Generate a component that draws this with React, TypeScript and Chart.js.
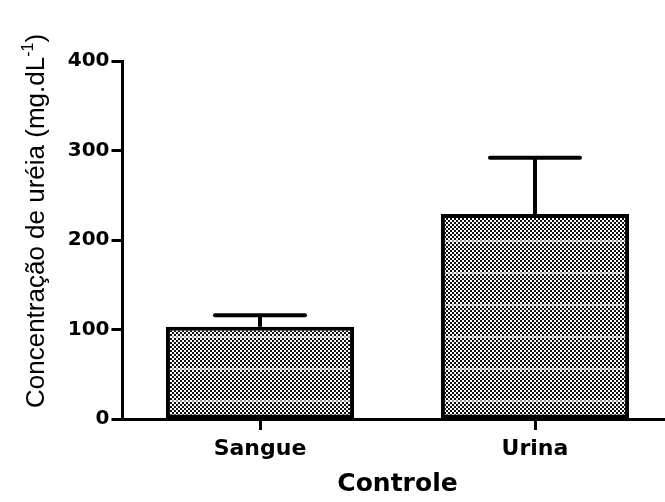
import React, { useEffect, useRef } from 'react';
import { Chart, registerables } from 'chart.js';

Chart.register(...registerables);

const categories = ['Sangue', 'Urina'];
const means = [103, 229];
const sem = [13, 63];
const yTicks = [0, 100, 200, 300, 400];
const yTitleMain = 'Concentração de uréia (mg.dL';
const yTitleSup = '-1';
const yTitleEnd = ')';
const xTitle = 'Controle';

function makePattern(): CanvasPattern | string {
  const c = document.createElement('canvas');
  c.width = 4;
  c.height = 32;
  const g = c.getContext('2d');
  if (!g) return '#666';
  g.fillStyle = '#fff';
  g.fillRect(0, 0, 4, 32);
  for (let y = 0; y < 32; y += 2) {
    for (let x = 0; x < 4; x += 2) {
      if (((x / 2) + (y / 2)) % 2 === 0) {
        g.fillStyle = y === 16 ? '#9a9a9a' : '#111';
        g.fillRect(x, y, 2, 2);
      }
    }
  }
  const p = g.createPattern(c, 'repeat');
  return p || '#666';
}

const errorBarPlugin = {
  id: 'errorBars',
  afterDatasetsDraw(chart: any) {
    const { ctx } = chart;
    const y = chart.scales.y;
    const meta = chart.getDatasetMeta(0);
    ctx.save();
    ctx.strokeStyle = '#000';
    ctx.lineWidth = 4;
    meta.data.forEach((bar: any, i: number) => {
      const { x, width } = bar.getProps(['x', 'width'], true);
      const top = y.getPixelForValue(means[i]);
      const hi = y.getPixelForValue(means[i] + sem[i]);
      ctx.lineCap = 'butt';
      ctx.beginPath();
      ctx.moveTo(x, top);
      ctx.lineTo(x, hi);
      ctx.stroke();
      ctx.lineCap = 'round';
      ctx.beginPath();
      ctx.moveTo(x - width / 4 + 2, hi);
      ctx.lineTo(x + width / 4 - 2, hi);
      ctx.stroke();
    });
    ctx.restore();
  },
};

const yTitlePlugin = {
  id: 'yTitle',
  afterDraw(chart: any) {
    const { ctx } = chart;
    const area = chart.chartArea;
    const size = 26;
    ctx.save();
    ctx.fillStyle = '#000';
    ctx.textBaseline = 'alphabetic';
    ctx.textAlign = 'left';
    ctx.translate(44, area.bottom - 11);
    ctx.rotate(-Math.PI / 2);
    ctx.font = `normal ${size}px "Liberation Sans", Arial, sans-serif`;
    let x = 0;
    ctx.fillText(yTitleMain, x, 0);
    x += ctx.measureText(yTitleMain).width;
    const supSize = Math.round(size * 0.6);
    ctx.font = `normal ${supSize}px "Liberation Sans", Arial, sans-serif`;
    ctx.fillText(yTitleSup, x, -size * 0.42);
    x += ctx.measureText(yTitleSup).width;
    ctx.font = `normal ${size}px "Liberation Sans", Arial, sans-serif`;
    ctx.fillText(yTitleEnd, x, 0);
    ctx.restore();
  },
};

export default function App() {
  const ref = useRef<HTMLCanvasElement | null>(null);

  useEffect(() => {
    if (!ref.current) return;
    const pattern = makePattern();
    const chart = new Chart(ref.current, {
      type: 'bar',
      data: {
        labels: categories,
        datasets: [
          {
            data: means,
            backgroundColor: pattern as any,
            borderColor: '#000',
            borderWidth: 4,
            borderSkipped: false,
            barPercentage: 0.684,
            categoryPercentage: 1,
          },
        ],
      },
      options: {
        responsive: false,
        maintainAspectRatio: false,
        devicePixelRatio: 1,
        animation: false,
        layout: { padding: { top: 61, right: 7.5, bottom: 0, left: 0 } },
        plugins: { legend: { display: false }, tooltip: { enabled: false } },
        scales: {
          x: {
            type: 'category',
            offset: true,
            grid: {
              display: true,
              drawOnChartArea: false,
              drawTicks: true,
              tickLength: 11,
              tickWidth: 3,
              tickColor: '#000',
              offset: false,
            },
            border: { display: true, width: 3, color: '#000' },
            ticks: {
              color: '#000',
              padding: 6,
              font: { family: '"DejaVu Sans", sans-serif', weight: 'bold', size: 22 },
              maxRotation: 0,
            },
            title: {
              display: true,
              text: xTitle,
              color: '#000',
              font: { family: '"DejaVu Sans", sans-serif', weight: 'bold', size: 25 },
              padding: { top: 0, bottom: 3 },
            },
            afterFit: (s: any) => {
              s.height = 83;
            },
          },
          y: {
            type: 'linear',
            min: 0,
            max: 400,
            grid: {
              display: true,
              drawOnChartArea: false,
              drawTicks: true,
              tickLength: 11,
              tickWidth: 3,
              tickColor: '#000',
            },
            border: { display: true, width: 3, color: '#000' },
            ticks: {
              color: '#000',
              padding: 2,
              font: { family: '"DejaVu Sans", sans-serif', weight: 'bold', size: 20 },
            },
            afterBuildTicks: (s: any) => {
              s.ticks = yTicks.map((v) => ({ value: v }));
            },
            afterFit: (s: any) => {
              s.width = 122.5;
            },
          },
        },
      },
      plugins: [errorBarPlugin, yTitlePlugin],
    });
    return () => chart.destroy();
  }, []);

  return (
    <div
      style={{
        position: 'fixed',
        left: 0,
        top: 0,
        width: 665,
        height: 502,
        overflow: 'hidden',
        background: '#fff',
      }}
    >
      <canvas ref={ref} width={680} height={502} style={{ display: 'block' }} />
    </div>
  );
}
